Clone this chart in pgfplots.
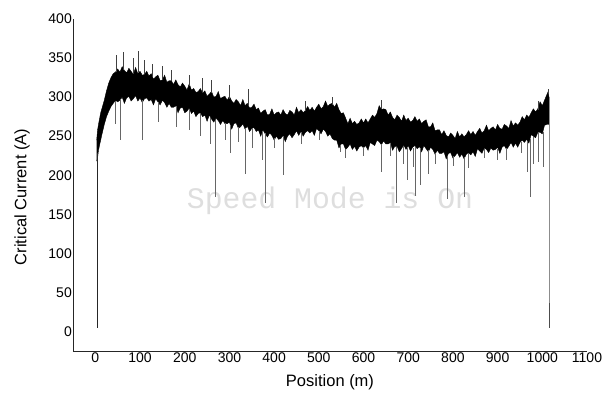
\documentclass[border=0pt]{standalone}
\usepackage{pgfplots}
\pgfplotsset{compat=1.18}
\usepackage{fontspec}
\setmainfont{Liberation Sans}
\newfontfamily\monofont{Liberation Mono}
\begin{document}
\begin{tikzpicture}
\useasboundingbox (-73pt,-41pt) rectangle (536pt,351pt);
\begin{axis}[
  scale only axis,
  width=514pt, height=332pt,
  xmin=-50, xmax=1100, ymin=-25, ymax=400,
  axis x line*=bottom, axis y line*=left,
  axis line style={-, line width=0.8pt, black!85},
  xtick={0,100,...,1100}, ytick={0,50,...,400},
  major tick length=0pt,
  /pgf/number format/assume math mode=true,
  /pgf/number format/1000 sep={},
  tick label style={font=\fontsize{14}{16}\selectfont},
  yticklabel style={anchor=east, inner sep=0pt, xshift=-1pt},
  xticklabel style={anchor=north, inner sep=0pt, yshift=-1.5pt},
  every axis x label/.style={at={(axis description cs:0.5,-0.0934)}, anchor=center, font=\fontsize{16.5}{19}\selectfont},
  every axis y label/.style={at={(axis description cs:-0.0992,0.464)}, rotate=90, anchor=center, font=\fontsize{16.5}{19}\selectfont},
  xlabel={Position (m)},
  ylabel={Critical Current (A)},
  unbounded coords=jump,
  clip=false,
]
\node[anchor=base, text=black!13, font=\monofont\fontsize{29.8}{32}\selectfont] at (axis cs:525,158) {Speed Mode is On};

% band (upper envelope left to right, then lower envelope right to left)
\addplot[fill=black, draw=black, line width=0.4pt] coordinates {
(3,245) (5,258) (8,268) (12,280) (16,288) (20,296) (25,308) (30,318) (35,325) (40,330) (45,332)
(50,336) (55,332) (60,339) (65,334) (70,331) (75,337) (80,333) (85,329) (90,338) (95,330)
(100,333) (105,328) (110,329) (115,333) (120,327) (125,330) (130,323) (135,326) (140,328) (145,321)
(150,322) (155,328) (160,319) (165,321) (170,321) (175,316) (180,322) (185,316) (190,313) (195,318)
(200,314) (205,309) (210,317) (215,309) (220,311) (225,306) (230,307) (235,311) (240,305) (245,308)
(250,301) (255,304) (260,307) (265,300) (270,301) (275,307) (280,298) (285,300) (290,301) (295,296)
(300,301) (305,295) (310,292) (315,297) (320,294) (325,289) (330,297) (335,289) (340,292) (345,286)
(350,287) (355,291) (360,284) (365,286) (370,279) (375,282) (380,284) (385,277) (390,278) (395,285)
(400,277) (405,280) (410,281) (415,277) (420,284) (425,279) (430,277) (435,283) (440,281) (445,277)
(450,287) (455,280) (460,284) (465,280) (470,283) (475,288) (480,283) (485,287) (490,282) (495,287)
(500,291) (505,285) (510,288) (515,295) (520,288) (525,291) (530,292) (535,287) (540,292) (545,284)
(550,279) (555,280) (560,273) (565,266) (570,273) (575,266) (580,269) (585,265) (590,267) (595,272)
(600,267) (605,272) (610,267) (615,272) (620,277) (625,274) (630,279) (635,289) (640,284) (645,285)
(650,284) (655,277) (660,281) (665,274) (670,271) (675,277) (680,274) (685,269) (690,277) (695,270)
(700,273) (705,268) (710,270) (715,275) (720,269) (725,272) (730,266) (735,269) (740,271) (745,262)
(750,262) (755,267) (760,257) (765,258) (770,258) (775,252) (780,257) (785,251) (790,249) (795,254)
(800,251) (805,247) (810,256) (815,249) (820,253) (825,249) (830,252) (835,257) (840,252) (845,256)
(850,251) (855,256) (860,260) (865,254) (870,257) (875,264) (880,257) (885,260) (890,262) (895,258)
(900,265) (905,260) (910,259) (915,265) (920,263) (925,260) (930,270) (935,263) (940,267) (945,264)
(950,268) (955,275) (960,271) (965,277) (970,274) (975,280) (980,285) (985,281) (990,285) (995,294)
(1000,289) (1005,296) (1010,303) (1013,307) (1015,300)
(1015,265) (1010,265) (1005,264) (1000,253) (995,255) (990,255) (985,248) (980,250) (975,252) (970,241)
(965,246) (960,242) (955,245) (950,242) (945,236) (940,241) (935,236) (930,242) (925,237) (920,233)
(915,238) (910,236) (905,228) (900,236) (895,233) (890,232) (885,235) (880,229) (875,233) (870,235)
(865,228) (860,231) (855,234) (850,224) (845,230) (840,226) (835,229) (830,227) (825,221) (820,227)
(815,223) (810,229) (805,225) (800,222) (795,229) (790,228) (785,221) (780,230) (775,228) (770,228)
(765,232) (760,227) (755,233) (750,236) (745,230) (740,234) (735,238) (730,230) (725,237) (720,234)
(715,238) (710,236) (705,231) (700,238) (695,233) (690,239) (685,234) (680,230) (675,237) (670,237)
(665,232) (660,242) (655,240) (650,240) (645,244) (640,239) (635,243) (630,245) (625,238) (620,240)
(615,242) (610,232) (605,238) (600,235) (595,238) (590,236) (585,231) (580,237) (575,233) (570,240)
(565,236) (560,233) (555,240) (550,240) (545,235) (540,245) (535,245) (530,247) (525,253) (520,250)
(515,256) (510,259) (505,253) (500,257) (495,260) (490,251) (485,257) (480,254) (475,257) (470,255)
(465,250) (460,256) (455,251) (450,257) (445,252) (440,248) (435,253) (430,250) (425,243) (420,251)
(415,247) (410,246) (405,250) (400,245) (395,251) (390,254) (385,249) (380,253) (375,258) (370,250)
(365,258) (360,256) (355,261) (350,260) (345,256) (340,263) (335,259) (330,266) (325,262) (320,260)
(315,267) (310,266) (305,259) (300,268) (295,266) (290,266) (285,270) (280,265) (275,270) (270,273)
(265,268) (260,272) (255,277) (250,269) (245,277) (240,275) (235,280) (230,279) (225,275) (220,282)
(215,279) (210,286) (205,282) (200,280) (195,287) (190,286) (185,280) (180,289) (175,287) (170,287)
(165,292) (160,287) (155,293) (150,296) (145,290) (140,294) (135,298) (130,290) (125,297) (120,295)
(115,299) (110,298) (105,293) (100,299) (95,295) (90,302) (85,298) (80,295) (75,301) (70,299)
(65,292) (60,300) (55,296) (50,294) (45,296) (40,292) (35,288) (30,282) (25,275) (20,265)
(15,253) (10,240) (7,232) (5,222) (3,218)
};

% downward spikes
\addplot[black!60, line width=0.6pt] coordinates {
(45,295) (45,266) (45,nan)
(56,298) (56,245) (56,nan)
(105,296) (105,245) (105,nan)
(140,294) (140,268) (140,nan)
(180,288) (180,262) (180,nan)
(210,284) (210,258) (210,nan)
(235,279) (235,250) (235,nan)
(258,273) (258,240) (258,nan)
(269,271) (269,172) (269,nan)
(290,267) (290,245) (290,nan)
(303,264) (303,228) (303,nan)
(320,262) (320,242) (320,nan)
(336,260) (336,202) (336,nan)
(352,260) (352,235) (352,nan)
(374,256) (374,219) (374,nan)
(381,254) (381,165) (381,nan)
(400,248) (400,235) (400,nan)
(421,250) (421,200) (421,nan)
(460,255) (460,240) (460,nan)
(500,256) (500,245) (500,nan)
(549,239) (549,230) (549,nan)
(560,234) (560,222) (560,nan)
(600,236) (600,225) (600,nan)
(639,240) (639,204) (639,nan)
(660,241) (660,225) (660,nan)
(673,236) (673,165) (673,nan)
(690,237) (690,215) (690,nan)
(697,235) (697,194) (697,nan)
(711,235) (711,210) (711,nan)
(715,236) (715,174) (715,nan)
(726,235) (726,187) (726,nan)
(744,232) (744,202) (744,nan)
(760,229) (760,215) (760,nan)
(787,225) (787,170) (787,nan)
(800,224) (800,212) (800,nan)
(825,223) (825,172) (825,nan)
(834,228) (834,209) (834,nan)
(870,234) (870,222) (870,nan)
(900,234) (900,220) (900,nan)
(919,235) (919,219) (919,nan)
(953,243) (953,228) (953,nan)
(966,244) (966,204) (966,nan)
(973,246) (973,172) (973,nan)
(980,249) (980,215) (980,nan)
(991,254) (991,217) (991,nan)
(1002,255) (1002,210) (1002,nan)
};

% upward spikes
\addplot[black!75, line width=0.6pt] coordinates {
(47,332) (47,354) (47,nan)
(63,335) (63,358) (63,nan)
(85,330) (85,350) (85,nan)
(96,332) (96,359) (96,nan)
(110,329) (110,348) (110,nan)
(128,326) (128,343) (128,nan)
(150,322) (150,340) (150,nan)
(170,320) (170,335) (170,nan)
(211,314) (211,328) (211,nan)
(240,306) (240,325) (240,nan)
(260,305) (260,322) (260,nan)
(300,298) (300,315) (300,nan)
(343,288) (343,311) (343,nan)
(470,282) (470,295) (470,nan)
(530,290) (530,300) (530,nan)
(640,285) (640,296) (640,nan)
(990,284) (990,295) (990,nan)
(1013,305) (1013,310) (1013,nan)
};

% start and end vertical lines
\addplot[black!85, line width=0.7pt] coordinates {(4,228) (4,5)};
\addplot[black!45, line width=0.8pt] coordinates {(1015,300) (1015,36)};
\addplot[black!70, line width=0.8pt] coordinates {(1015,36) (1015,5)};
\end{axis}
\end{tikzpicture}
\end{document}
